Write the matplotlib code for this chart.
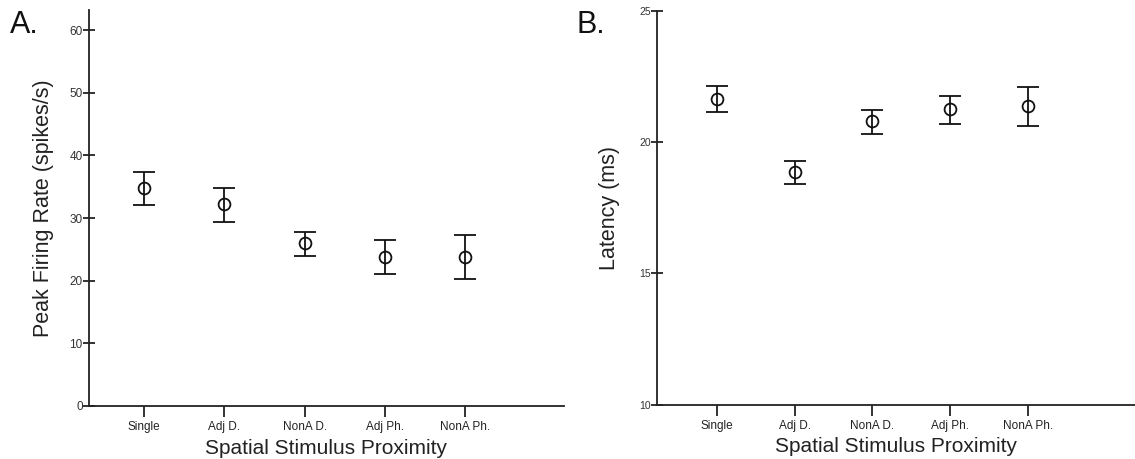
import matplotlib
matplotlib.use("Agg")
import matplotlib.pyplot as plt
import numpy as np

plt.rcParams['font.family'] = ['Liberation Sans', 'DejaVu Sans']

categories = ["Single", "Adj D.", "NonA D.", "Adj Ph.", "NonA Ph."]

rate_mean = [34.8, 32.3, 26.0, 23.8, 23.8]
rate_upper = [37.4, 34.8, 27.8, 26.5, 27.3]
rate_lower = [32.1, 29.4, 24.0, 21.1, 20.3]

lat_mean = [21.65, 18.85, 20.8, 21.26, 21.37]
lat_upper = [22.15, 19.29, 21.22, 21.76, 22.09]
lat_lower = [21.15, 18.41, 20.33, 20.71, 20.61]

rate_yticks = [0, 10, 20, 30, 40, 50, 60]
lat_yticks = [10, 15, 20, 25]

fig = plt.figure(figsize=(11.35, 4.59), dpi=100)
axA = fig.add_axes([0.0784, 0.1155, 0.4185, 0.8627])
axB = fig.add_axes([0.5789, 0.1187, 0.4211, 0.8573])

color = '#111111'


def draw(ax, mean, upper, lower, xlim, ylim, yticks, ylabel, ytick_size):
    x = np.arange(len(categories))
    mean = np.array(mean)
    yerr = [mean - np.array(lower), np.array(upper) - mean]
    ax.errorbar(x, mean, yerr=yerr, fmt='o', mfc='none', mec=color, ms=8.5,
                mew=1.3, ecolor=color, elinewidth=1.3, capsize=8, capthick=1.3,
                color=color)
    ax.set_xlim(*xlim)
    ax.set_ylim(*ylim)
    ax.set_xticks(x)
    ax.set_xticklabels(categories, fontsize=8.5, color='#222222')
    ax.set_yticks(yticks)
    ax.tick_params(axis='y', direction='inout', length=9, width=1.2,
                   labelsize=ytick_size, pad=0, colors=color, labelcolor='#333333')
    ax.tick_params(axis='x', direction='out', length=8, width=1.2, pad=3,
                   colors=color, labelcolor='#222222')
    for s in ['top', 'right']:
        ax.spines[s].set_visible(False)
    for s in ['left', 'bottom']:
        ax.spines[s].set_linewidth(1.3)
        ax.spines[s].set_color('#222222')
    ax.set_xlabel("Spatial Stimulus Proximity", fontsize=15, color='#222222', labelpad=4)
    ax.set_ylabel(ylabel, fontsize=15.5, color='#222222')


draw(axA, rate_mean, rate_upper, rate_lower, (-0.685, 5.23), (0, 63.2),
     rate_yticks, "Peak Firing Rate (spikes/s)", 8.5)
draw(axB, lat_mean, lat_upper, lat_lower, (-0.772, 5.38), (10, 25),
     lat_yticks, "Latency (ms)", 7.5)

axA.yaxis.set_label_coords(-0.074, 0.5)
axB.yaxis.set_label_coords(-0.077, 0.5)

fig.text(0.009, 0.978, "A.", fontsize=22, va='top', ha='left', color='#111111')
fig.text(0.508, 0.978, "B.", fontsize=22, va='top', ha='left', color='#111111')

fig.savefig("out.png", dpi=100)
